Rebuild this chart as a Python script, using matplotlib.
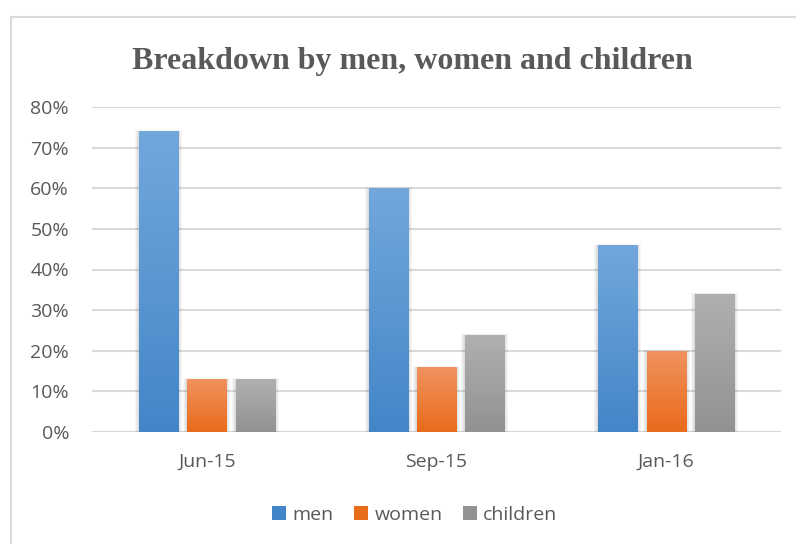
import matplotlib.pyplot as plt
import numpy as np
from matplotlib.patches import Rectangle
from matplotlib.colors import LinearSegmentedColormap

categories = ['Jun-15', 'Sep-15', 'Jan-16']
series = ['men', 'women', 'children']
men = [0.74, 0.60, 0.46]
women = [0.13, 0.16, 0.20]
children = [0.13, 0.24, 0.34]

# top / bottom colours of the gradient fill
grads = [('#72a7dc', '#4386c8'), ('#f0925e', '#e96b1c'), ('#b0b0b0', '#929292')]

W, H = 796, 544
fig = plt.figure(figsize=(W / 100, H / 100), dpi=100)
fig.patches.append(Rectangle((11 / W, -0.1), 1.0, (H - 17) / H + 0.1, transform=fig.transFigure,
                             fill=False, edgecolor='#d9d9d9', linewidth=1.5))

ax = fig.add_axes([92 / W, 1 - 432 / H, (781 - 92) / W, (432 - 107) / H])
ax.set_xlim(0, 3)
ax.set_ylim(0, 0.8)
px_x = 3 / (781 - 92)
px_y = 0.8 / (432 - 107)

txt = '#595959'
grid = '#d9d9d9'
for y in np.arange(0, 0.81, 0.1):
    ax.axhline(y, color=grid, linewidth=1.5, zorder=0)

bw = 0.17
gap = 0.04
data = [men, women, children]
for s, vals in enumerate(data):
    top, bot = grads[s]
    cmap = LinearSegmentedColormap.from_list('g%d' % s, [bot, top])
    for i, v in enumerate(vals):
        x0 = i + 0.5 + (s - 1) * (bw + gap) - bw / 2
        # soft shadow round the bar
        for k in range(1, 5):
            ax.add_patch(Rectangle((x0 - k * px_x, -px_y), bw + 2 * k * px_x, v + (k * 0.5) * px_y,
                                   facecolor='black', edgecolor='none', alpha=0.035, zorder=1))
        rect = Rectangle((x0, 0), bw, v, facecolor='none', edgecolor='none', zorder=2)
        ax.add_patch(rect)
        im = ax.imshow(np.linspace(0, 1, 100).reshape(-1, 1), cmap=cmap, origin='lower',
                       extent=[x0, x0 + bw, 0, v], aspect='auto', zorder=2)
        im.set_clip_path(rect)

ax.set_xlim(0, 3)
ax.set_ylim(0, 0.8)
for sp in ax.spines.values():
    sp.set_visible(False)
ax.set_yticks(np.arange(0, 0.81, 0.1))
ax.set_yticklabels(['%d%%' % round(t * 100) for t in np.arange(0, 0.81, 0.1)])
ax.set_xticks([0.5, 1.5, 2.5])
ax.set_xticklabels(categories)
ax.tick_params(length=0, labelsize=14, labelcolor=txt, pad=15)
ax.tick_params(axis='y', pad=16.5)
for lab in ax.get_xticklabels() + ax.get_yticklabels():
    lab.set_fontfamily('Open Sans')

fig.text(412 / W, 1 - 69 / H, 'Breakdown by men, women and children', ha='center', va='baseline',
         fontsize=23, fontweight='bold', color=txt, family='Liberation Serif')

handles = [Rectangle((0, 0), 1, 1, facecolor=g[1], edgecolor='none') for g in grads]
fig.legend(handles, series, loc='center', bbox_to_anchor=(415 / W, 1 - 515 / H), ncol=3,
           frameon=False, handlelength=0.72, handleheight=0.72, handletextpad=0.3, columnspacing=1.08,
           borderpad=0, prop={'family': 'Open Sans', 'size': 14}, labelcolor=txt)

fig.savefig('out.png', dpi=100)
